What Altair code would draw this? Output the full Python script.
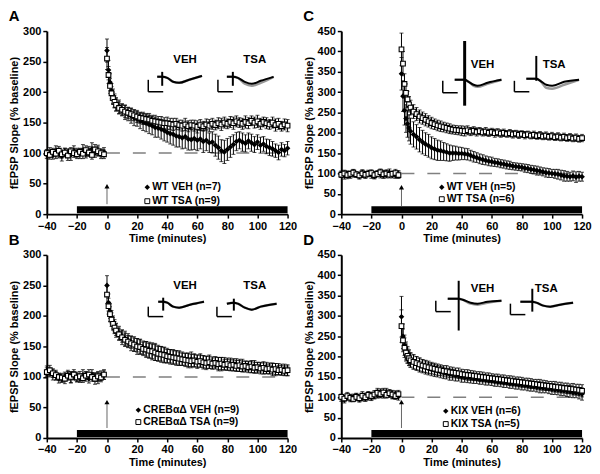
import altair as alt
import pandas as pd

# ---------------- data ----------------
TIME = [-40, -38, -36, -34, -32, -30, -28, -26, -24, -22,
        -20, -18, -16, -14, -12, -10, -8, -6, -4, -2,
        0, 1, 2, 3, 4, 5,
        6, 8, 10, 12, 14, 16, 18, 20, 22, 24,
        26, 28, 30, 32, 34, 36, 38, 40, 42, 44,
        46, 48, 50, 52, 54, 56, 58, 60, 62, 64,
        66, 68, 70, 72, 74, 76, 78, 80, 82, 84,
        86, 88, 90, 92, 94, 96, 98, 100, 102, 104,
        106, 108, 110, 112, 114, 116, 118, 120]

# Panel A  (WT)
A_VEH = [98, 101, 96, 103, 99, 95, 102, 100, 97, 104,
         101, 99, 105, 98, 103, 107, 100, 104, 99, 102,
         268, 236, 216, 202, 193, 186,
         180, 176, 171, 167, 164, 161, 158, 156, 153, 151,
         149, 147, 145, 142, 141, 139, 137, 134, 132, 131,
         128, 127, 125, 127, 123, 122, 124, 121, 123, 119,
         121, 117, 118, 113, 109, 104, 102, 106, 110, 114,
         119, 121, 118, 116, 120, 117, 114, 118, 113, 115,
         111, 109, 107, 104, 101, 106, 104, 108]
A_VEH_ERR = [7, 8, 6, 9, 7, 8, 6, 7, 9, 8,
             7, 8, 9, 6, 8, 10, 7, 9, 8, 7,
             19, 16, 14, 12, 12, 11,
             11, 11, 10, 12, 11, 12, 13, 12, 13, 14,
             14, 15, 15, 16, 15, 16, 17, 16, 17, 18,
             18, 17, 18, 19, 18, 17, 18, 17, 16, 18,
             17, 16, 17, 18, 19, 18, 19, 18, 17, 16,
             15, 14, 15, 14, 13, 14, 13, 12, 13, 12,
             12, 13, 12, 11, 12, 11, 10, 11]
A_TSA = [100, 97, 102, 99, 104, 98, 101, 96, 103, 100,
         98, 102, 99, 105, 101, 97, 106, 103, 100, 98,
         255, 228, 210, 198, 190, 184,
         179, 174, 171, 168, 166, 164, 162, 160, 158, 157,
         156, 155, 153, 152, 151, 150, 149, 149, 148, 147,
         148, 146, 145, 147, 144, 146, 145, 143, 146, 144,
         147, 145, 148, 146, 149, 147, 150, 148, 151, 149,
         152, 150, 148, 151, 149, 153, 150, 152, 148, 151,
         149, 147, 150, 146, 148, 144, 147, 145]
A_TSA_ERR = [6, 7, 6, 8, 7, 6, 7, 8, 6, 7,
             7, 6, 8, 7, 6, 7, 8, 7, 6, 7,
             18, 14, 12, 11, 10, 10,
             10, 10, 9, 10, 9, 10, 9, 10, 9, 10,
             9, 10, 9, 10, 9, 10, 9, 10, 9, 10,
             9, 8, 9, 10, 9, 8, 9, 10, 9, 8,
             9, 10, 9, 8, 9, 10, 9, 8, 9, 10,
             9, 8, 9, 10, 9, 8, 9, 10, 9, 8,
             9, 8, 9, 10, 9, 8, 9, 10]

# Panel B  (CREBaD)
B_VEH = [110, 107, 104, 102, 98, 97, 101, 103, 99, 102,
         100, 98, 103, 101, 97, 104, 100, 98, 102, 103,
         250, 222, 208, 198, 190, 184,
         178, 172, 167, 163, 160, 157, 154, 152, 150, 148,
         146, 144, 142, 141, 139, 138, 136, 135, 134, 133,
         132, 131, 130, 129, 128, 129, 127, 126, 127, 125,
         124, 125, 123, 124, 122, 121, 122, 120, 121, 119,
         120, 118, 119, 117, 118, 116, 117, 115, 116, 114,
         115, 113, 114, 112, 113, 111, 112, 110]
B_VEH_ERR = [8, 7, 9, 7, 8, 6, 7, 8, 9, 7,
             8, 7, 9, 8, 7, 8, 7, 9, 8, 7,
             16, 14, 12, 11, 10, 10,
             10, 11, 10, 12, 11, 10, 12, 11, 12, 11,
             12, 13, 12, 14, 13, 12, 13, 12, 11, 12,
             11, 12, 11, 10, 11, 12, 11, 10, 11, 10,
             10, 11, 10, 9, 10, 11, 10, 9, 10, 9,
             10, 9, 10, 9, 8, 9, 10, 9, 8, 9,
             9, 8, 9, 10, 9, 8, 9, 8]
B_TSA = [108, 111, 106, 103, 100, 99, 97, 102, 100, 104,
         99, 101, 98, 102, 104, 100, 97, 101, 99, 104,
         235, 216, 203, 194, 187, 181,
         176, 170, 165, 161, 158, 155, 153, 150, 149, 146,
         145, 143, 142, 140, 138, 137, 136, 134, 133, 132,
         131, 130, 129, 128, 127, 126, 127, 125, 126, 124,
         123, 124, 122, 123, 121, 122, 120, 121, 119, 120,
         118, 119, 117, 118, 116, 117, 115, 116, 114, 115,
         113, 114, 112, 113, 111, 112, 110, 111]
B_TSA_ERR = [7, 8, 7, 8, 6, 7, 8, 7, 9, 8,
             7, 8, 7, 6, 8, 7, 9, 8, 7, 8,
             15, 13, 12, 11, 10, 10,
             11, 10, 12, 11, 10, 12, 11, 13, 12, 11,
             13, 12, 14, 13, 12, 13, 12, 11, 12, 11,
             12, 11, 10, 11, 12, 11, 10, 11, 10, 11,
             11, 10, 9, 10, 11, 10, 9, 10, 9, 10,
             9, 10, 9, 8, 9, 10, 9, 8, 9, 10,
             8, 9, 10, 9, 8, 9, 8, 9]

# Panel C  (WT, strong tetanus)
C_VEH = [98, 95, 99, 96, 100, 97, 94, 99, 96, 101,
         97, 95, 100, 98, 96, 99, 102, 97, 95, 98,
         345, 290, 255, 235, 222, 212,
         204, 196, 190, 183, 177, 172, 168, 163, 160, 157,
         156, 154, 152, 150, 150, 150, 149, 149, 148, 147,
         144, 141, 139, 136, 134, 132, 130, 129, 127, 126,
         124, 123, 121, 120, 118, 117, 116, 115, 113, 112,
         110, 109, 107, 106, 104, 102, 101, 100, 99, 98,
         96, 94, 93, 92, 94, 91, 93, 92]
C_VEH_ERR = [8, 9, 7, 8, 9, 7, 8, 9, 8, 7,
             9, 8, 7, 9, 8, 10, 9, 8, 7, 9,
             40, 38, 36, 34, 33, 32,
             32, 31, 30, 30, 29, 28, 28, 27, 26, 25,
             24, 22, 21, 20, 18, 17, 16, 15, 14, 14,
             13, 13, 12, 12, 12, 11, 11, 11, 10, 10,
             10, 10, 10, 10, 9, 9, 9, 9, 10, 10,
             10, 10, 11, 10, 10, 11, 11, 10, 11, 12,
             12, 13, 12, 11, 12, 13, 12, 11]
C_TSA = [97, 100, 96, 99, 102, 98, 95, 100, 97, 99,
         101, 96, 99, 103, 98, 100, 97, 99, 101, 96,
         405, 370, 320, 298, 282, 270,
         262, 252, 246, 240, 236, 232, 228, 224, 221, 218,
         216, 214, 212, 210, 208, 207, 206, 205, 204, 206,
         203, 205, 202, 204, 201, 203, 200, 202, 199, 201,
         198, 200, 197, 199, 196, 198, 195, 197, 194, 196,
         193, 195, 192, 194, 191, 193, 190, 192, 189, 191,
         188, 190, 187, 189, 186, 188, 185, 187]
C_TSA_ERR = [7, 8, 9, 7, 8, 6, 7, 9, 8, 7,
             8, 9, 7, 8, 9, 7, 8, 7, 9, 8,
             40, 30, 25, 22, 20, 19,
             18, 17, 16, 16, 15, 15, 14, 14, 13, 13,
             13, 12, 12, 12, 11, 11, 11, 12, 12, 11,
             10, 10, 10, 9, 9, 10, 9, 9, 10, 9,
             9, 9, 8, 9, 9, 8, 9, 8, 9, 8,
             8, 9, 8, 9, 8, 9, 8, 9, 8, 9,
             8, 9, 8, 9, 8, 9, 8, 9]

# Panel D  (KIX)
D_VEH = [98, 95, 100, 97, 99, 102, 96, 100, 98, 103,
         101, 104, 108, 110, 107, 112, 109, 104, 106, 102,
         298, 250, 228, 214, 205, 198,
         192, 187, 183, 179, 176, 173, 170, 168, 166, 164,
         162, 160, 158, 156, 155, 153, 152, 150, 149, 148,
         147, 146, 145, 144, 143, 142, 141, 140, 139, 138,
         137, 136, 135, 134, 133, 132, 131, 130, 129, 128,
         127, 126, 125, 124, 123, 122, 121, 120, 119, 118,
         117, 116, 115, 114, 112, 111, 110, 108]
D_VEH_ERR = [8, 9, 7, 8, 9, 7, 8, 9, 8, 10,
             9, 8, 10, 11, 9, 10, 9, 8, 10, 9,
             50, 30, 25, 22, 20, 19,
             18, 18, 17, 17, 16, 16, 15, 15, 15, 14,
             14, 14, 13, 14, 13, 13, 12, 13, 12, 12,
             12, 12, 11, 12, 11, 12, 11, 11, 12, 11,
             11, 12, 11, 12, 11, 12, 11, 12, 11, 12,
             12, 11, 12, 13, 12, 11, 12, 13, 12, 12,
             13, 12, 13, 14, 13, 12, 14, 15]
D_TSA = [101, 97, 103, 99, 96, 101, 98, 104, 100, 106,
         103, 107, 111, 108, 112, 106, 110, 107, 103, 108,
         275, 240, 222, 210, 202, 196,
         191, 187, 184, 181, 178, 176, 174, 172, 170, 168,
         167, 165, 164, 162, 161, 160, 159, 157, 156, 155,
         154, 153, 152, 151, 150, 149, 148, 147, 146, 145,
         144, 143, 142, 141, 140, 139, 138, 137, 136, 135,
         134, 133, 132, 131, 130, 129, 128, 127, 126, 125,
         124, 123, 122, 121, 120, 119, 118, 116]
D_TSA_ERR = [7, 8, 9, 8, 7, 9, 8, 10, 9, 8,
             9, 10, 11, 9, 10, 8, 9, 10, 8, 9,
             40, 28, 24, 21, 19, 18,
             17, 17, 16, 16, 15, 15, 15, 14, 14, 14,
             13, 13, 14, 13, 13, 12, 13, 12, 12, 13,
             12, 12, 11, 12, 12, 11, 12, 11, 11, 12,
             11, 12, 11, 12, 12, 11, 12, 12, 11, 12,
             12, 11, 12, 13, 12, 12, 11, 12, 13, 12,
             13, 12, 13, 12, 14, 13, 14, 15]

SERIES = {
    "A": (A_VEH, A_VEH_ERR, A_TSA, A_TSA_ERR),
    "B": (B_VEH, B_VEH_ERR, B_TSA, B_TSA_ERR),
    "C": (C_VEH, C_VEH_ERR, C_TSA, C_TSA_ERR),
    "D": (D_VEH, D_VEH_ERR, D_TSA, D_TSA_ERR),
}
Y_MAX = {"A": 300, "B": 300, "C": 450, "D": 450}
LEGEND_LABELS = {
    "A": ["WT VEH (n=7)", "WT TSA (n=9)"],
    "B": ["CREB\u03b1\u0394  VEH (n=9)", "CREB\u03b1\u0394  TSA (n=9)"],
    "C": ["WT VEH (n=5)", "WT TSA (n=6)"],
    "D": ["KIX VEH (n=6)", "KIX TSA (n=5)"],
}
X_TICKS = [-40, -20, 0, 20, 40, 60, 80, 100, 120]
BAR_START, BAR_END = -20, 120      # drug application bar
ARROW_T = 0                        # tetanus
BASELINE = 100
DASH_START, DASH_END = 0, 120

# ---------------- layout (pixels, relative to each plot area) ----------------
W, H = 242, 184
FONT = "Liberation Sans"

LEGEND_POS = {"A": (101, 157, 14), "B": (92, 156, 12), "C": (101, 157, 12), "D": (105, 157, 13)}
ARROW_PX = {"A": (153, 174), "B": (145, 174), "C": (154, 176), "D": (145, 174)}

# inset traces: scale-bar (x, ytop, ybot), trace points, artifact (x, ytop, ybot, width), gray extra dip
INSETS = {
    "A": [
        dict(lab="VEH", lp=(139, 29), L=(102, 49, 61),
             tr=[(111, 46), (116, 46), (121, 47), (127, 51), (133, 52), (143, 49), (156, 45)],
             art=(116, 41, 55, 2), g=0),
        dict(lab="TSA", lp=(209, 29), L=(172, 49, 61),
             tr=[(181, 46), (187, 46), (192, 47), (199, 51), (206, 53), (215, 50), (228, 46)],
             art=(187, 41, 55, 2), g=2),
    ],
    "B": [
        dict(lab="VEH", lp=(139, 31), L=(102, 52, 62),
             tr=[(112, 47), (117, 47), (121, 48), (127, 52), (133, 53), (144, 50), (158, 47)],
             art=(117, 43, 56, 2), g=0),
        dict(lab="TSA", lp=(209, 31), L=(171, 52, 62),
             tr=[(181, 49), (188, 48), (192, 49), (199, 53), (206, 55), (215, 52), (231, 49)],
             art=(188, 44, 56, 2), g=0),
    ],
    "C": [
        dict(lab="VEH", lp=(142, 34), L=(102, 50, 62),
             tr=[(114, 49), (124, 49), (128, 51), (133, 54), (137, 55), (147, 52), (161, 49)],
             art=(124, 10, 75, 3), g=1),
        dict(lab="TSA", lp=(214, 34), L=(174, 50, 61),
             tr=[(186, 48), (196, 48), (200, 50), (206, 54), (212, 55), (224, 51), (239, 49)],
             art=(196, 25, 50, 2), g=3),
    ],
    "D": [
        dict(lab="VEH", lp=(142, 34), L=(95, 46, 57),
             tr=[(107, 44), (118, 44), (122, 45), (130, 48), (137, 49), (147, 47), (161, 46)],
             art=(118, 26, 76, 2), g=1),
        dict(lab="TSA", lp=(206, 34), L=(170, 49, 60),
             tr=[(180, 47), (192, 47), (196, 48), (203, 51), (210, 52), (220, 50), (233, 48)],
             art=(192, 34, 57, 2), g=0),
    ],
}


def panel(key):
    veh, veh_e, tsa, tsa_e = SERIES[key]
    assert len(veh) == len(TIME) == len(veh_e) == len(tsa) == len(tsa_e)
    ymax = Y_MAX[key]
    xs = alt.Scale(domain=[-40, 120], nice=False)
    ys = alt.Scale(domain=[0, ymax], nice=False)
    xax = alt.Axis(values=X_TICKS, title="Time (minutes)", labelFlush=False)
    yax = alt.Axis(values=list(range(0, ymax + 1, 50)), title="fEPSP Slope (% baseline)")

    def X(f):
        return alt.X(f, type="quantitative", scale=xs, axis=xax)

    def Y(f):
        return alt.Y(f, type="quantitative", scale=ys, axis=yax)

    dv = pd.DataFrame({"t": TIME, "v": veh, "e": veh_e})
    dt = pd.DataFrame({"t": TIME, "v": tsa, "e": tsa_e})
    for d in (dv, dt):
        d["lo"] = d["v"] - d["e"]
        d["hi"] = d["v"] + d["e"]

    PX = lambda f: alt.X(f, type="quantitative", scale=None, axis=None)
    PY = lambda f: alt.Y(f, type="quantitative", scale=None, axis=None)

    layers = []
    # dashed baseline
    layers.append(alt.Chart(pd.DataFrame({"s": [DASH_START], "e": [DASH_END], "v": [BASELINE]}))
                  .mark_rule(color="#808080", strokeWidth=1.5, strokeDash=[13, 13])
                  .encode(x=X("s"), x2="e", y=Y("v")))
    # drug bar
    layers.append(alt.Chart(pd.DataFrame({"s": [BAR_START], "e": [BAR_END]}))
                  .mark_rect(color="black")
                  .encode(x=X("s"), x2="e", y=alt.value(H - 8), y2=alt.value(H - 1)))
    # arrow
    at, ab = ARROW_PX[key]
    adf = pd.DataFrame({"t": [ARROW_T]})
    layers.append(alt.Chart(adf).mark_rule(color="#666666", strokeWidth=1)
                  .encode(x=X("t"), y=alt.value(at + 3), y2=alt.value(ab)))
    layers.append(alt.Chart(adf).mark_point(shape="triangle-up", filled=True, color="black",
                                            size=26, opacity=1)
                  .encode(x=X("t"), y=alt.value(at + 3)))
    # error bars
    for d in (dv, dt):
        layers.append(alt.Chart(d).mark_errorbar(ticks=True, color="black", thickness=1, size=4)
                      .encode(x=X("t"), y=Y("lo"), y2="hi"))
    # points
    layers.append(alt.Chart(dv).mark_point(shape="diamond", filled=True, color="black",
                                           size=32, opacity=1)
                  .encode(x=X("t"), y=Y("v")))
    layers.append(alt.Chart(dt).mark_point(shape="square", filled=True, fill="white",
                                           stroke="black", strokeWidth=1.1, size=22, opacity=1)
                  .encode(x=X("t"), y=Y("v")))
    # legend
    lx, ly, lgap = LEGEND_POS[key]
    labels = LEGEND_LABELS[key]
    layers.append(alt.Chart(pd.DataFrame({"px": [lx], "py": [ly]}))
                  .mark_point(shape="diamond", filled=True, color="black", size=30, opacity=1)
                  .encode(x=PX("px"), y=PY("py")))
    layers.append(alt.Chart(pd.DataFrame({"px": [lx], "py": [ly + lgap]}))
                  .mark_point(shape="square", filled=True, fill="white", stroke="black",
                              strokeWidth=1, size=24, opacity=1)
                  .encode(x=PX("px"), y=PY("py")))
    layers.append(alt.Chart(pd.DataFrame({"px": [lx + 5, lx + 5], "py": [ly, ly + lgap],
                                          "lab": labels}))
                  .mark_text(align="left", baseline="middle", font=FONT, fontWeight="bold",
                             fontSize=10.5, color="black")
                  .encode(x=PX("px"), y=PY("py"), text="lab:N"))
    # insets
    trows, rrows, lrows = [], [], []
    for i, ins in enumerate(INSETS[key]):
        n = len(ins["tr"])
        for j, (px, py) in enumerate(ins["tr"]):
            gy = py + (ins["g"] if 2 < j < n - 1 else 0)
            trows.append({"grp": f"g{i}", "o": j, "px": px, "py": gy, "c": "gray"})
            trows.append({"grp": f"b{i}", "o": j, "px": px, "py": py, "c": "black"})
        lxp, lyt, lyb = ins["L"]
        rrows.append({"x": lxp, "y": lyt, "x2": lxp, "y2": lyb, "w": 1.5})
        rrows.append({"x": lxp, "y": lyb, "x2": lxp + 15, "y2": lyb, "w": 1.5})
        ax_, ayt, ayb, aw = ins["art"]
        rrows.append({"x": ax_, "y": ayt, "x2": ax_, "y2": ayb, "w": aw})
        lrows.append({"px": ins["lp"][0], "py": ins["lp"][1], "lab": ins["lab"]})
    tdf = pd.DataFrame(trows)
    layers.append(alt.Chart(tdf[tdf.c == "gray"]).mark_line(color="#999999", strokeWidth=2.5,
                                                             interpolate="monotone")
                  .encode(x=PX("px"), y=PY("py"), detail="grp:N", order="o:Q"))
    layers.append(alt.Chart(tdf[tdf.c == "black"]).mark_line(color="black", strokeWidth=2,
                                                              interpolate="monotone")
                  .encode(x=PX("px"), y=PY("py"), detail="grp:N", order="o:Q"))
    layers.append(alt.Chart(pd.DataFrame(rrows)).mark_rule(color="black")
                  .encode(x=PX("x"), y=PY("y"), x2="x2", y2="y2",
                          strokeWidth=alt.StrokeWidth("w:Q", scale=None, legend=None)))
    layers.append(alt.Chart(pd.DataFrame(lrows))
                  .mark_text(align="center", baseline="middle", font=FONT, fontWeight="bold",
                             fontSize=11.5, color="black")
                  .encode(x=PX("px"), y=PY("py"), text="lab:N"))

    return alt.layer(*layers).properties(
        width=W, height=H,
        title=alt.TitleParams(key, anchor="start", frame="bounds", offset=1,
                              fontSize=15, font=FONT, fontWeight="bold", color="black"))


chart = alt.concat(
    panel("A"), panel("C"), panel("B"), panel("D"),
    columns=2, spacing=alt.RowColnumber(row=41, column=54), bounds="flush"
).properties(
    padding={"left": 0, "top": 0, "right": 0, "bottom": 0}
).configure_axis(
    domainColor="black", domainWidth=2, tickColor="black", tickWidth=1.5, tickSize=4,
    labelFont=FONT, labelFontWeight="bold", labelFontSize=11, labelColor="black",
    labelPadding=2, titleFont=FONT, titleFontWeight="bold", titleFontSize=11,
    titleColor="black", grid=False
).configure_axisY(titlePadding=3).configure_axisX(titlePadding=2).configure_view(stroke=None)

chart.save("out.html", embed_options={"renderer": "svg", "actions": False})
